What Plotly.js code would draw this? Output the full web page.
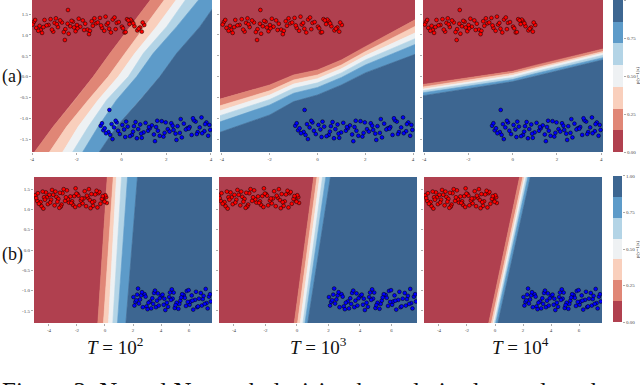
<!DOCTYPE html>
<html>
<head>
<meta charset="utf-8">
<script src="https://cdn.plot.ly/plotly-3.0.1.min.js"></script>
<style>
html,body{margin:0;padding:0;background:#fff;}
#chart{width:640px;height:385px;}
</style>
</head>
<body>
<div id="chart"></div>
<script>
// ================= DATA =================
// band colours, class 0 (red) -> class 1 (blue)
let bandColors = ["#b0404f","#e08676","#f9cfbc","#eef1f3","#b3d4e6","#5d9bc9","#3d6691"];

let cbTickPos = [-0.5,1.25,3,4.75,6.5];
let cbTickText = ["0.00","0.25","0.50","0.75","1.00"];

let yTickVals = [-1.5,-1,-0.5,0,0.5,1,1.5];
let yTickText = ["-1.5","-1.0","-0.5","0.0","0.5","1.0","1.5"];
let xTickA = [-4,-2,0,2,4];
let xTickB = [-4,-2,0,2,4,6];

let rowLabels = ["(a)","(b)"];
let colTitles = ["<i>T</i> = 10<sup>2</sup>","<i>T</i> = 10<sup>3</sup>","<i>T</i> = 10<sup>4</sup>"];

// row (a) panel 1: x position of each boundary at these y values
let a1Y = [-1.85,-1.2,-0.56,0,0.56,1.2,1.88];
let a1Bounds = [
[-3.94,-3.05,-2.08,-1.26,-0.51,0.38,1.35],
[-3.27,-2.45,-1.48,-0.59,0.16,1.05,1.97],
[-2.67,-1.93,-1.04,-0.14,0.60,1.57,2.50],
[-2.23,-1.48,-0.66,0.31,0.98,2.02,2.91],
[-1.78,-1.04,-0.22,0.68,1.42,2.47,3.51],
[-1.04,-0.22,0.83,1.72,2.47,3.51,4.40]
];

// row (a) panels 2 and 3: y position of each boundary at these x values
let aX = [-4.2,-2,-1,0,1,2,4.2];
let a2Bounds = [
[-0.56,-0.20,0.04,0.16,0.40,0.72,1.40],
[-0.72,-0.34,-0.08,0.04,0.28,0.60,1.24],
[-0.84,-0.44,-0.18,-0.05,0.19,0.50,1.08],
[-0.96,-0.55,-0.28,-0.15,0.09,0.40,0.94],
[-1.11,-0.68,-0.40,-0.26,-0.02,0.28,0.80],
[-1.36,-0.92,-0.60,-0.44,-0.20,0.09,0.56]
];
let a3Bounds = [
[-0.20,-0.03,0.05,0.13,0.27,0.40,0.68],
[-0.26,-0.08,0.00,0.08,0.21,0.34,0.62],
[-0.31,-0.13,-0.05,0.03,0.17,0.30,0.58],
[-0.35,-0.18,-0.10,-0.02,0.12,0.25,0.53],
[-0.40,-0.23,-0.15,-0.07,0.07,0.20,0.47],
[-0.47,-0.29,-0.20,-0.12,0.01,0.14,0.42]
];

// row (b): x position of each boundary at bottom and top
let bY = [-1.85,1.85];
let b1Bounds = [[-0.52,0.17],[-0.12,0.60],[0.24,0.83],[0.55,1.19],[0.88,1.62],[1.48,2.33]];
let b2Bounds = [[-0.19,1.08],[0.02,1.29],[0.19,1.46],[0.36,1.64],[0.49,1.85],[0.66,2.14]];
let b3Bounds = [[-0.48,1.79],[-0.29,2.02],[-0.17,2.14],[-0.07,2.26],[0.02,2.38],[0.17,2.55]];

// training points, row (a)
let redAX = [-3.92,-3.61,-3.17,-2.84,-2.41,-2.05,-1.73,-1.28,-0.96,-0.55,-0.21,0.14,0.47,0.83,
-3.81,-3.44,-3.05,-2.66,-2.29,-1.91,-1.52,-1.14,-0.77,-0.39,0.02,0.36,0.71,1.02,
-3.97,-3.55,-3.26,-2.93,-2.51,-2.17,-1.84,-1.41,-1.06,-0.66,-0.31,0.07,0.41,0.91,
-3.72,-3.35,-2.99,-2.58,-2.23,-1.97,-1.62,-1.21,-0.87,-0.47,-0.12,0.25,0.58,0.95,
-3.86,-3.49,-3.11,-2.74,-2.36,-1.99,-1.67,-1.33,-0.91,-0.60,-0.26,0.19,0.53,0.77,
-3.66,-2.89,-2.12,-1.45,-0.71,0.31,-2.39,-2.53];
let redAY = [1.31,1.12,1.38,1.19,1.27,1.09,1.35,1.22,1.41,1.15,1.29,1.06,1.33,1.18,
1.17,1.36,1.08,1.30,1.21,1.39,1.13,1.28,1.10,1.37,1.20,1.26,1.11,1.24,
1.25,1.05,1.24,1.40,1.14,1.32,1.20,1.10,1.30,1.25,1.42,1.16,1.37,1.08,
1.10,1.23,1.29,1.07,1.34,1.16,1.27,1.40,1.17,1.06,1.31,1.38,1.21,1.30,
1.36,1.19,1.13,1.35,1.03,1.24,1.12,1.33,1.23,1.29,1.14,1.07,1.28,1.15,
1.22,1.26,1.18,1.02,1.44,1.35,1.60,0.88];
let blueAX = [-0.93,-0.58,-0.21,0.12,0.47,0.84,1.19,1.55,1.88,2.23,2.61,2.95,3.32,3.71,
-0.81,-0.44,-0.07,0.28,0.63,0.99,1.36,1.71,2.07,2.42,2.79,3.14,3.50,3.93,
-0.69,-0.33,0.04,0.38,0.75,1.08,1.45,1.80,2.15,2.51,2.88,3.24,3.61,3.97,
-0.87,-0.50,-0.15,0.21,0.56,0.91,1.27,1.63,1.98,2.33,2.70,3.05,3.41,3.80,
-0.75,-0.26,0.17,0.52,0.88,1.23,1.60,1.93,2.29,2.65,3.01,3.37,3.74,3.88,
-0.40,0.69,1.50,2.46,3.20,3.58,-0.54];
let blueAY = [-1.18,-1.33,-1.10,-1.27,-1.40,-1.15,-1.30,-1.21,-1.44,-1.12,-1.35,-1.24,-1.08,-1.31,
-1.29,-1.14,-1.38,-1.20,-1.09,-1.34,-1.17,-1.42,-1.26,-1.37,-1.13,-1.40,-1.22,-1.16,
-1.36,-1.22,-1.16,-1.43,-1.26,-1.11,-1.39,-1.07,-1.32,-1.19,-1.27,-1.05,-1.36,-1.28,
-1.12,-1.40,-1.30,-1.08,-1.19,-1.47,-1.24,-1.30,-1.10,-1.28,-1.46,-1.21,-1.33,-1.10,
-1.24,-1.06,-1.45,-1.32,-1.37,-1.21,-1.06,-1.35,-1.18,-1.02,-1.25,-1.38,-1.14,-1.42,
-1.50,-1.48,-1.55,-1.52,-1.00,-0.98,-0.80];

// training points, row (b)
let redBX = [-4.97,-4.60,-4.22,-3.85,-3.47,-3.10,-2.72,-2.35,-1.97,-1.60,-1.22,-0.85,-0.47,-0.10,
-4.84,-4.45,-4.08,-3.70,-3.33,-2.95,-2.58,-2.20,-1.83,-1.45,-1.08,-0.70,-0.33,0.08,
-4.91,-4.53,-4.15,-3.78,-3.40,-3.03,-2.65,-2.28,-1.90,-1.53,-1.15,-0.78,-0.40,0.13,
-4.72,-4.35,-3.97,-3.60,-3.22,-2.85,-2.47,-2.10,-1.72,-1.35,-0.97,-0.60,-0.22,0.02,
-4.79,-4.29,-3.91,-3.54,-3.16,-2.79,-2.41,-2.04,-1.66,-1.29,-0.91,-0.54,-0.16,-0.03,
-4.40,-3.26,-2.13,-1.03];
let redBY = [1.35,1.18,1.42,1.24,1.31,1.12,1.47,1.20,1.38,1.15,1.29,1.09,1.40,1.22,
1.21,1.44,1.13,1.36,1.26,1.50,1.17,1.33,1.10,1.45,1.23,1.37,1.14,1.30,
1.28,1.08,1.30,1.48,1.19,1.40,1.25,1.11,1.34,1.27,1.50,1.20,1.43,1.16,
1.14,1.30,1.36,1.10,1.41,1.21,1.32,1.52,1.22,1.08,1.38,1.46,1.26,1.35,
1.40,1.24,1.17,1.44,1.07,1.30,1.16,1.39,1.27,1.34,1.18,1.05,1.33,1.19,
1.02,1.04,1.06,1.03];
let blueBX = [2.03,2.42,2.83,3.22,3.64,4.03,4.42,4.83,5.24,5.63,6.04,6.43,6.84,7.25,
2.17,2.58,2.97,3.38,3.78,4.19,4.58,4.98,5.38,5.78,6.19,6.58,6.98,7.42,
2.10,2.50,2.90,3.30,3.71,4.11,4.50,4.90,5.31,5.70,6.11,6.50,6.91,7.55,
2.30,2.70,3.10,3.50,3.91,4.31,4.71,5.11,5.51,5.91,6.30,6.71,7.12,7.50,
2.24,2.64,3.04,3.44,3.84,4.24,4.64,5.04,5.44,5.84,6.24,6.64,7.04,7.33,
2.36,3.57,4.77,5.97,7.19];
let blueBY = [-1.16,-1.32,-1.09,-1.27,-1.41,-1.13,-1.30,-1.20,-1.45,-1.11,-1.35,-1.23,-1.06,-1.31,
-1.28,-1.12,-1.39,-1.19,-1.07,-1.35,-1.16,-1.43,-1.25,-1.38,-1.12,-1.41,-1.21,-1.15,
-1.37,-1.22,-1.15,-1.44,-1.25,-1.10,-1.40,-1.05,-1.33,-1.18,-1.27,-1.03,-1.37,-1.27,
-1.10,-1.41,-1.30,-1.06,-1.19,-1.48,-1.23,-1.30,-1.09,-1.28,-1.47,-1.20,-1.33,-1.09,
-1.24,-1.04,-1.46,-1.33,-1.37,-1.20,-1.05,-1.36,-1.17,-1.01,-1.25,-1.39,-1.13,-1.44,
-0.95,-1.00,-0.97,-0.99,-0.96];

// ================= BANDS =================
function band(px, py, k, xa, ya){
return {x:px, y:py, xaxis:xa, yaxis:ya, type:"scatter", mode:"lines", fill:"toself",
fillcolor:bandColors[k], line:{color:bandColors[k], width:0.6}, hoverinfo:"skip", showlegend:false};
}

// boundaries given as x(y): red on the left
function vertBands(ys, bounds, xa, ya){
let out = [];
for(let k=0;k<7;k++){
let left = k==0 ? ys.map(()=>-60) : bounds[k-1];
let right = k==6 ? ys.map(()=>60) : bounds[k];
out.push(band(left.concat(right.slice().reverse()), ys.concat(ys.slice().reverse()), k, xa, ya));
}
return out;
}

// boundaries given as y(x): red on top
function horizBands(xs, bounds, xa, ya){
let out = [];
for(let k=0;k<7;k++){
let upper = k==0 ? xs.map(()=>60) : bounds[k-1];
let lower = k==6 ? xs.map(()=>-60) : bounds[k];
out.push(band(xs.concat(xs.slice().reverse()), upper.concat(lower.slice().reverse()), k, xa, ya));
}
return out;
}

function points(xs, ys, color, xa, ya){
return {x:xs, y:ys, xaxis:xa, yaxis:ya, type:"scatter", mode:"markers", hoverinfo:"skip", showlegend:false,
marker:{color:color, size:3.8, line:{color:"#000", width:0.5}}};
}

function colorbar(xa, ya){
return {z:[[0],[1],[2],[3],[4],[5],[6]], xaxis:xa, yaxis:ya, type:"heatmap", zmin:0, zmax:6,
colorscale:bandColors.map((c,i)=>[i/6,c]), showscale:false, hoverinfo:"skip"};
}

// ================= TRACES =================
let data = [];
data = data.concat(vertBands(a1Y, a1Bounds, "x", "y"));
data = data.concat(horizBands(aX, a2Bounds, "x2", "y2"));
data = data.concat(horizBands(aX, a3Bounds, "x3", "y3"));
data = data.concat(vertBands(bY, b1Bounds, "x4", "y4"));
data = data.concat(vertBands(bY, b2Bounds, "x5", "y5"));
data = data.concat(vertBands(bY, b3Bounds, "x6", "y6"));

[["x","y"],["x2","y2"],["x3","y3"]].forEach(a=>{
data.push(points(redAX, redAY, "#ff0000", a[0], a[1]));
data.push(points(blueAX, blueAY, "#0000ff", a[0], a[1]));
});
[["x4","y4"],["x5","y5"],["x6","y6"]].forEach(a=>{
data.push(points(redBX, redBY, "#ff0000", a[0], a[1]));
data.push(points(blueBX, blueBY, "#0000ff", a[0], a[1]));
});

data.push(colorbar("x7","y7"));
data.push(colorbar("x8","y8"));

// ================= LAYOUT =================
let serif = "Liberation Serif, DejaVu Serif, serif";
let tickFont = {family:serif, size:5, color:"#444"};

function xax(domain, range, vals, anchor){
return {domain:domain, range:range, anchor:anchor, tickvals:vals, ticktext:vals.map(String),
ticks:"outside", ticklen:2, tickwidth:0.5, tickcolor:"#555", tickfont:tickFont,
showgrid:false, zeroline:false, showline:false, fixedrange:true};
}
function yax(domain, range, labels, anchor){
return {domain:domain, range:range, anchor:anchor, tickvals:yTickVals, ticktext:yTickText, showticklabels:labels,
ticks:"outside", ticklen:2, tickwidth:0.5, tickcolor:"#555", tickfont:tickFont,
showgrid:false, zeroline:false, showline:false, fixedrange:true};
}
function cbx(domain, anchor){
return {domain:domain, range:[-0.5,0.5], anchor:anchor, visible:false, fixedrange:true};
}
function cby(domain, anchor){
return {domain:domain, range:[-0.5,6.5], anchor:anchor, side:"right", tickvals:cbTickPos, ticktext:cbTickText,
ticks:"outside", ticklen:2, tickwidth:0.5, tickcolor:"#555", tickfont:tickFont,
showgrid:false, zeroline:false, showline:false, fixedrange:true};
}

let rowA = [0.6052,1];
let rowB = [0.161,0.5403];

let layout = {
width:640, height:385,
margin:{l:0,r:0,t:0,b:0},
paper_bgcolor:"#fff", plot_bgcolor:"#fff",
font:{family:serif, color:"#222"},
xaxis: xax([0.05,0.33125],[-4,4.05],xTickA,"y"),
yaxis: yax(rowA,[-1.81,1.84],true,"x"),
xaxis2: xax([0.34375,0.6484],[-4.08,4.08],xTickA,"y2"),
yaxis2: yax(rowA,[-1.81,1.84],false,"x2"),
xaxis3: xax([0.6609,0.9422],[-4.05,4.08],xTickA,"y3"),
yaxis3: yax(rowA,[-1.81,1.84],false,"x3"),
xaxis4: xax([0.0531,0.33125],[-5.07,7.64],xTickB,"y4"),
yaxis4: yax(rowB,[-1.8,1.8],true,"x4"),
xaxis5: xax([0.3422,0.6516],[-4.95,7.62],xTickB,"y5"),
yaxis5: yax(rowB,[-1.8,1.8],false,"x5"),
xaxis6: xax([0.6625,0.9406],[-5.07,7.64],xTickB,"y6"),
yaxis6: yax(rowB,[-1.8,1.8],false,"x6"),
xaxis7: cbx([0.9578,0.9734],"y7"),
yaxis7: cby(rowA,"x7"),
xaxis8: cbx([0.9578,0.9719],"y8"),
yaxis8: cby([0.1636,0.5429],"x8"),
annotations:[
{text:rowLabels[0], xref:"paper", yref:"paper", x:0, y:1-76/385, xanchor:"left", yanchor:"middle", showarrow:false, font:{size:18, color:"#111"}},
{text:rowLabels[1], xref:"paper", yref:"paper", x:0, y:1-254/385, xanchor:"left", yanchor:"middle", showarrow:false, font:{size:18, color:"#111"}},
{text:colTitles[0], xref:"paper", yref:"paper", x:115/640, y:1-346/385, xanchor:"center", yanchor:"middle", showarrow:false, font:{size:19, color:"#111"}},
{text:colTitles[1], xref:"paper", yref:"paper", x:318/640, y:1-346/385, xanchor:"center", yanchor:"middle", showarrow:false, font:{size:19, color:"#111"}},
{text:colTitles[2], xref:"paper", yref:"paper", x:520/640, y:1-346/385, xanchor:"center", yanchor:"middle", showarrow:false, font:{size:19, color:"#111"}},
{text:"p(y=1|x)", xref:"paper", yref:"paper", x:637/640, y:1-76/385, textangle:-90, xanchor:"center", yanchor:"middle", showarrow:false, font:{size:5, color:"#333"}},
{text:"p(y=1|x)", xref:"paper", yref:"paper", x:637/640, y:1-250/385, textangle:-90, xanchor:"center", yanchor:"middle", showarrow:false, font:{size:5, color:"#333"}},
{text:"Figure 3: Neural Network decision boundaries learned on the", xref:"paper", yref:"paper", x:0, y:1-376/385, xanchor:"left", yanchor:"top", showarrow:false, font:{size:25, color:"#111"}}
]
};

Plotly.newPlot("chart", data, layout, {displayModeBar:false, staticPlot:true});
</script>
</body>
</html>
